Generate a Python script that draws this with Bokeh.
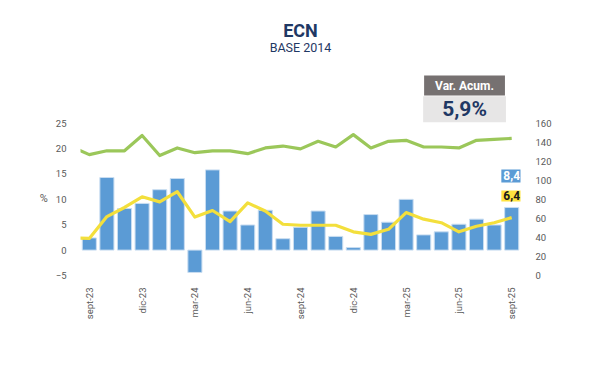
from bokeh.plotting import figure
from bokeh.models import Range1d, LinearAxis, FixedTicker, Label
from bokeh.embed import file_html
from bokeh.resources import INLINE

# ---- data -------------------------------------------------------------
months = ["ago-23", "sept-23", "oct-23", "nov-23", "dic-23", "ene-24", "feb-24",
          "mar-24", "abr-24", "may-24", "jun-24", "jul-24", "ago-24", "sept-24",
          "oct-24", "nov-24", "dic-24", "ene-25", "feb-25", "mar-25", "abr-25",
          "may-25", "jun-25", "jul-25", "ago-25", "sept-25"]
bar_months = months[1:]

# monthly variation (%), bars, left axis
var_mensual = [2.4, 14.3, 8.2, 9.2, 11.9, 14.1, -4.4, 15.8, 7.7, 4.95,
               7.85, 2.25, 4.5, 7.7, 2.7, 0.5, 7.0, 5.5, 10.0, 3.0,
               3.6, 5.1, 6.1, 4.95, 8.4]
# moving variation (%), yellow line, left axis
var_movil = [2.4, 2.3, 6.6, 8.4, 10.5, 9.5, 11.5, 6.5, 7.8, 5.6, 9.3, 7.7,
             5.1, 4.9, 4.9, 4.9, 3.6, 3.1, 4.1, 7.4, 6.1, 5.4, 3.6, 4.7,
             5.4, 6.4]
# index level, green line, right axis
indice = [135, 127, 131, 131, 147, 126, 134, 129, 131, 131, 128, 134,
          136, 133, 141, 135, 148, 134, 141, 142, 135, 135, 134, 142,
          143, 144]

tick_labels = ["sept-23", "dic-23", "mar-24", "jun-24", "sept-24",
               "dic-24", "mar-25", "jun-25", "sept-25"]
left_ticks = [-5, 0, 5, 10, 15, 20, 25]
right_ticks = [0, 20, 40, 60, 80, 100, 120, 140, 160]
var_acum_text = "5,9%"

FONT = "Roboto"
NAVY = "#1F3864"
GREY = "#595959"

def fmt(v):
    return f"{v:.1f}".replace(".", ",")

# the frame is extended upward so that the headings sit inside it
TOP = 47
scale = (right_ticks[-1] - right_ticks[0]) / (left_ticks[-1] - left_ticks[0])

bar_x = list(range(len(bar_months)))
line_x = [i - 1 for i in range(len(months))]

p = figure(frame_width=440, frame_height=264, output_backend="svg",
           toolbar_location=None,
           x_range=Range1d(-0.5, len(bar_months) - 0.5),
           y_range=Range1d(left_ticks[0], TOP),
           min_border_left=80, min_border_right=72,
           min_border_top=11, min_border_bottom=90)
p.extra_y_ranges = {"idx": Range1d(right_ticks[0],
                                   right_ticks[0] + (TOP - left_ticks[0]) * scale)}
p.outline_line_color = None
p.background_fill_color = "white"
p.border_fill_color = "white"
p.xgrid.visible = False
p.ygrid.visible = False

p.vbar(x=bar_x, top=var_mensual, bottom=0, width=0.8,
       fill_color="#5B9BD5", line_color="#C9DDF1", line_width=1)
p.line(x=line_x, y=indice, y_range_name="idx", line_color="#9BC75A",
       line_width=3.2, line_join="round")
p.line(x=line_x, y=var_movil, line_color="#F3DF3C", line_width=3.2,
       line_join="round")

def style_axis(ax):
    ax.axis_line_color = None
    ax.major_tick_line_color = None
    ax.minor_tick_line_color = None
    ax.major_label_text_font = FONT
    ax.major_label_text_font_size = "9.5px"
    ax.major_label_text_color = GREY

# x axis
xa = p.xaxis[0]
style_axis(xa)
xa.ticker = FixedTicker(ticks=[bar_months.index(t) for t in tick_labels])
xa.major_label_overrides = {bar_months.index(t): t for t in tick_labels}
xa.major_label_orientation = 1.5708
xa.major_label_standoff = 6

# left axis
ya = p.yaxis[0]
style_axis(ya)
ya.ticker = FixedTicker(ticks=left_ticks)
ya.major_label_standoff = 8
ya.axis_label = "\n" * 7 + "%"
ya.axis_label_orientation = "horizontal"
ya.axis_label_text_font = FONT
ya.axis_label_text_font_style = "normal"
ya.axis_label_text_font_size = "11px"
ya.axis_label_text_color = GREY
ya.axis_label_standoff = 5

# right axis
ra = LinearAxis(y_range_name="idx", ticker=FixedTicker(ticks=right_ticks))
style_axis(ra)
ra.major_label_standoff = 9
p.add_layout(ra, "right")

# headings
p.add_layout(Label(x=12, y=43.3, text="ECN", text_align="center",
                   text_baseline="middle", text_font=FONT,
                   text_font_style="bold", text_font_size="18px",
                   text_color=NAVY))
p.add_layout(Label(x=12, y=40.0, text="BASE 2014", text_align="center",
                   text_baseline="middle", text_font=FONT,
                   text_font_size="12.5px", text_color=NAVY))

# Var. Acum. box (padding given as (horizontal, vertical))
p.add_layout(Label(x=21.32, y=32.42, text="Var. Acum.", text_align="center",
                   text_baseline="middle", text_font=FONT,
                   text_font_style="bold", text_font_size="12px",
                   text_color="white", background_fill_color="#767171",
                   padding=(11, 3)))
p.add_layout(Label(x=21.32, y=27.73, text=var_acum_text, text_align="center",
                   text_baseline="middle", text_font=FONT,
                   text_font_style="bold", text_font_size="21px",
                   text_color=NAVY, background_fill_color="#E7E6E6",
                   padding=(19, 1)))

# end-value labels
p.add_layout(Label(x=bar_x[-1], y=14.6, text=fmt(var_mensual[-1]),
                   text_align="center", text_baseline="middle",
                   text_font=FONT, text_font_style="bold",
                   text_font_size="12px", text_color="white",
                   background_fill_color="#5B9BD5", padding=(2, 2)))
p.add_layout(Label(x=bar_x[-1], y=10.66, text=fmt(var_movil[-1]),
                   text_align="center", text_baseline="middle",
                   text_font=FONT, text_font_style="bold",
                   text_font_size="12px", text_color="#1A1A1A",
                   background_fill_color="#FFE33F", padding=(2, 1)))

open("out.html", "w").write(file_html(p, INLINE))
